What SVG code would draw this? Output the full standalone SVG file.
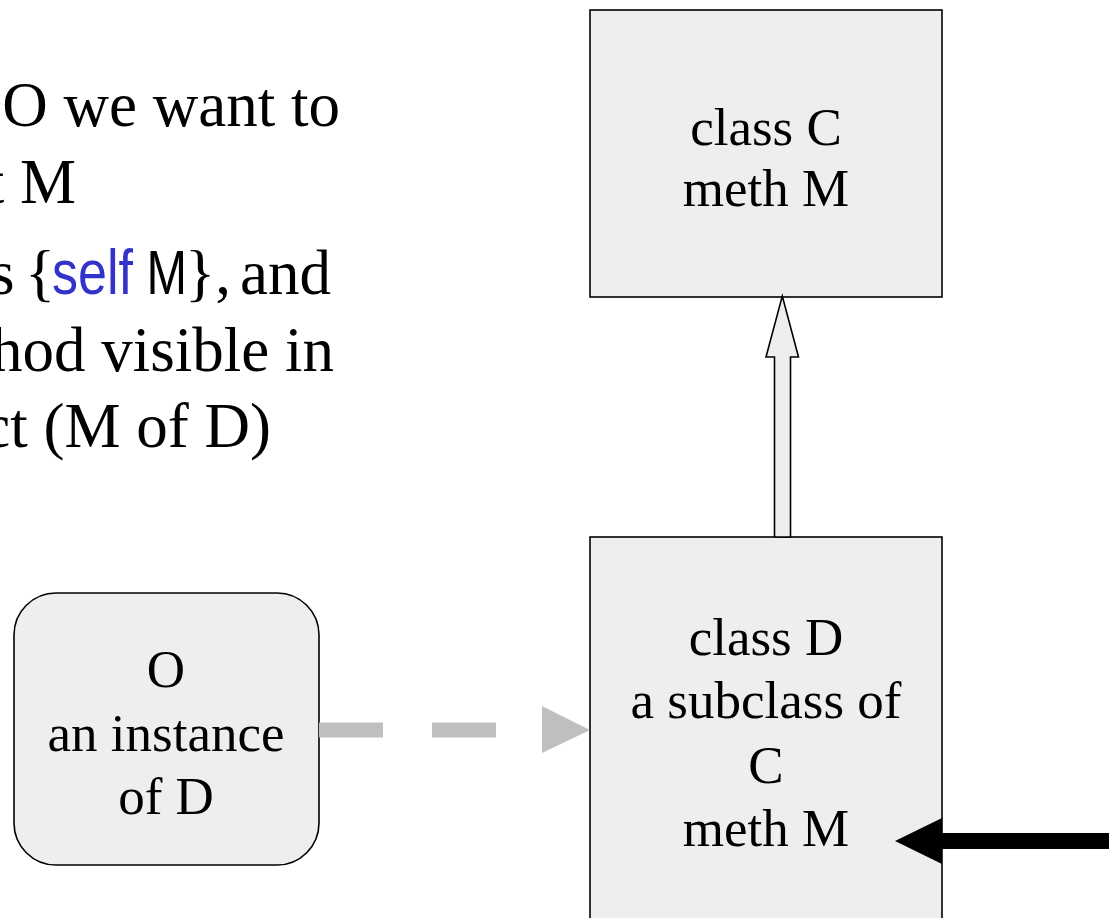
<svg xmlns="http://www.w3.org/2000/svg" width="1109" height="918" viewBox="0 0 1109 918">
<style>
.box{fill:#eeeeee;stroke:#000;stroke-width:1.6}
.t{font-family:"Liberation Serif","Times New Roman",serif;font-size:53px;fill:#000;text-anchor:middle}
.lt{font-family:"Liberation Serif","Times New Roman",serif;font-size:63px;fill:#000;text-anchor:end}
.ls{font-family:"Liberation Serif","Times New Roman",serif;font-size:63px;fill:#000;text-anchor:start}
.kw{font-family:"Liberation Sans",Arial,sans-serif;fill:#3333cc}
.sans{font-family:"Liberation Sans",Arial,sans-serif}
</style>
<rect width="1109" height="918" fill="#fff"/>
<g id="explanation">
<text class="lt" x="340" y="126">O we want to</text>
<text class="lt" x="76" y="203">t M</text>
<text class="ls" y="294"><tspan x="-10">s</tspan><tspan x="25">{</tspan><tspan class="kw" x="52" textLength="81" lengthAdjust="spacingAndGlyphs">self</tspan><tspan class="sans" textLength="54" lengthAdjust="spacingAndGlyphs"> M</tspan><tspan x="185">},</tspan><tspan x="240">and</tspan></text>
<text class="lt" x="334" y="371">hod visible in</text>
<text class="lt" x="271" y="447">ct (M of D)</text>
</g>
<g id="node-classC">
<rect class="box" x="590" y="10" width="352" height="287"/>
<text class="t" x="766" y="145">class C</text>
<text class="t" x="766" y="206">meth M</text>
</g>
<g id="node-classD">
<rect class="box" x="590" y="537" width="352" height="400"/>
<text class="t" x="766" y="655">class D</text>
<text class="t" x="766" y="718">a subclass of</text>
<text class="t" x="766" y="783">C</text>
<text class="t" x="766" y="846">meth M</text>
</g>
<g id="node-O">
<rect class="box" x="14" y="593" width="305" height="272" rx="42" ry="42"/>
<text class="t" x="166" y="687">O</text>
<text class="t" x="166" y="751">an instance</text>
<text class="t" x="166" y="814">of D</text>
</g>
<g id="connectors">
<polygon points="774.5,537 774.5,357 766,357 782.3,296 798.5,357 790.5,357 790.5,537" fill="#eeeeee" stroke="#000" stroke-width="1.6"/>
<line x1="319" y1="730" x2="542" y2="730" stroke="#bfbfbf" stroke-width="15" stroke-dasharray="64 49"/>
<polygon points="542,706 590,730 542,753" fill="#bfbfbf"/>
<line x1="942" y1="841" x2="1109" y2="841" stroke="#000" stroke-width="16"/>
<polygon points="942,818 895,841 942,864" fill="#000"/>
</g>
</svg>
